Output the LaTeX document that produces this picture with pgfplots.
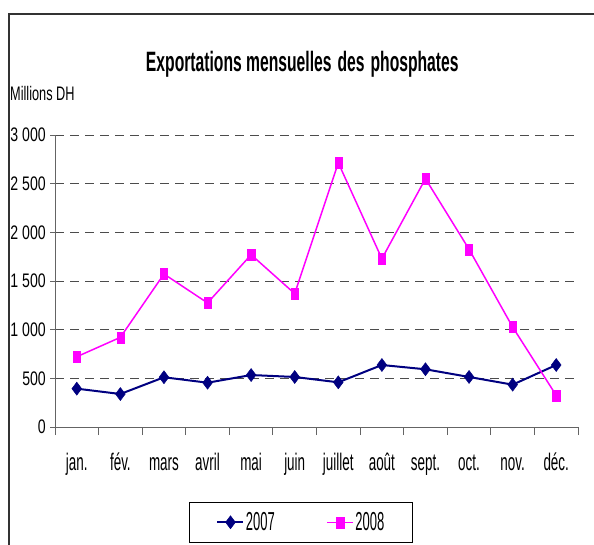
\documentclass[border=0pt]{standalone}
\usepackage{fontspec}
\setmainfont{Liberation Sans}
\newfontfamily\fA{Liberation Sans}[FakeStretch=0.56]
\newfontfamily\fB{Liberation Sans}[FakeStretch=0.65]
\newfontfamily\fD{Liberation Sans}[FakeStretch=0.72]
\newfontfamily\fC{Liberation Sans}[FakeStretch=0.5]
\usepackage{pgfplots}
\pgfplotsset{compat=1.18}
\definecolor{navy07}{RGB}{0,0,128}
\definecolor{mag08}{RGB}{255,0,255}
\definecolor{axgray}{RGB}{100,100,100}
\begin{document}
\begin{tikzpicture}[x=1pt,y=1pt]
\useasboundingbox (0,0) rectangle (594,544);
\draw[line width=1.5pt, black!80] (9,-30) rectangle (640,530);
\node[font=\fA\bfseries\fontsize{28}{32}\selectfont, inner sep=0pt, anchor=base] at (302.3,472.3) {Exportations mensuelles\hspace{6pt}des\hspace{6pt}phosphates};
\node[font=\fB\fontsize{19.6}{22}\selectfont, inner sep=0pt, anchor=base west] at (10,443.3) {Millions DH};
\begin{axis}[
  at={(55pt,117pt)}, anchor=south west, scale only axis,
  width=523pt, height=292pt,
  xmin=-0.5, xmax=11.5, ymin=0, ymax=3000,
  axis x line=bottom, axis y line=left,
  axis line style={-, draw=axgray, line width=1pt},
  tick align=outside,
  xtick={0,...,11},
  xticklabels={jan.,fév.,mars,avril,mai,juin,juillet,août,sept.,oct.,nov.,déc.},
  major x tick style={draw=none},
  minor xtick={-0.5,0.5,...,11.5},
  minor tick length=8pt,
  major tick length=5pt,
  tick style={draw=axgray, line width=1pt},
  ytick={0,500,...,3000},
  yticklabels={0,500,1 000,1 500,2 000,2 500,3 000},
  ymajorgrids,
  y grid style={draw=black!70, line width=1pt, dash pattern=on 9pt off 6pt},
  xticklabel style={font=\fA\fontsize{24}{28}\selectfont, anchor=base, inner sep=0pt, yshift=-38pt},
  yticklabel style={font=\fD\fontsize{19.6}{22}\selectfont, anchor=east, inner sep=0pt, xshift=-4pt},
  legend columns=2,
  legend style={at={(0.2562,-0.2568)}, anchor=north west, draw=black, line width=1pt,
    inner xsep=27pt, inner ysep=10pt,
    font=\fC\fontsize{26}{30}\selectfont,
    nodes={inner xsep=1.5pt, inner ysep=0pt},
    /tikz/every even column/.append style={column sep=50pt}},
  legend image code/.code={\draw[mark repeat=2,mark phase=2,#1] plot coordinates {(0pt,0pt) (13pt,0pt) (26pt,0pt)};},
]
\addplot[navy07, line width=2pt, mark=diamond*, mark size=6.5pt, mark options={solid, fill=navy07, line width=0.5pt}]
 coordinates {(0,394) (1,339) (2,511) (3,455) (4,534) (5,514) (6,459) (7,637) (8,593) (9,514) (10,435) (11,637)};
\addlegendentry{2007\rule[-30pt]{0pt}{0pt}}
\addplot[mag08, line width=1.5pt, mark=square*, mark size=5.5pt, mark options={solid, fill=mag08, line width=0.3pt, xscale=0.65}]
 coordinates {(0,722) (1,921) (2,1572) (3,1275) (4,1770) (5,1370) (6,2714) (7,1729) (8,2551) (9,1826) (10,1027) (11,325)};
\addlegendentry{2008\rule[-30pt]{0pt}{0pt}}
\end{axis}
\end{tikzpicture}
\end{document}
